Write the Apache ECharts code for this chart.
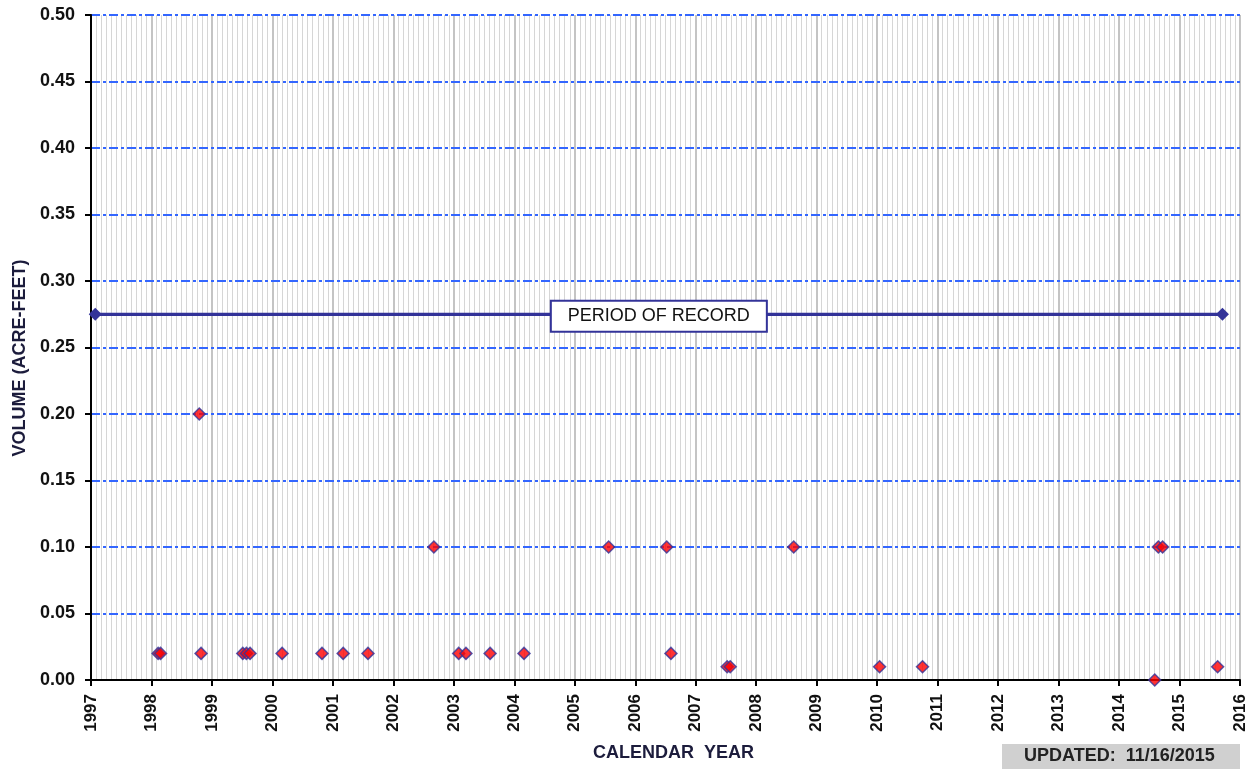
<!DOCTYPE html>
<html>
<head>
<meta charset="utf-8">
<script src="https://cdn.jsdelivr.net/npm/echarts@6/dist/echarts.min.js"></script>
<style>
html,body{margin:0;padding:0;background:#fff;}
#chart{width:1255px;height:771px;}
</style>
</head>
<body>
<div id="chart"></div>
<script>
// ---- data ----
const yearTicks = [1997,1998,1999,2000,2001,2002,2003,2004,2005,2006,2007,2008,2009,2010,2011,2012,2013,2014,2015,2016];
const periodYears = [1997.07, 2015.71];
const periodValue = 0.275;
const sampleYears = [1998.11,1998.15,1998.79,1998.82,1999.51,1999.57,1999.63,2000.16,2000.82,2001.17,2001.58,2002.67,2003.08,2003.20,2003.60,2004.16,2005.56,2006.52,2006.59,2007.52,2007.57,2008.62,2010.04,2010.75,2014.59,2014.65,2014.72,2015.63];
const sampleVolumes = [0.02,0.02,0.20,0.02,0.02,0.02,0.02,0.02,0.02,0.02,0.02,0.10,0.02,0.02,0.02,0.02,0.10,0.10,0.02,0.01,0.01,0.10,0.01,0.01,0.00,0.10,0.10,0.01];
const periodLabel = 'PERIOD OF RECORD';
const xTitle = 'CALENDAR  YEAR';
const yTitle = 'VOLUME (ACRE-FEET)';
const updatedText = 'UPDATED:  11/16/2015';

const FONT = '"Liberation Sans", Arial, sans-serif';
const chart = echarts.init(document.getElementById('chart'), null, {renderer:'canvas'});

const periodData = periodYears.map(y => [y, periodValue]);
const sampleData = sampleYears.map((y,i) => [y, sampleVolumes[i]]);

chart.setOption({
  animation: false,
  backgroundColor: '#ffffff',
  grid: {left: 91, top: 15, right: 15, bottom: 91, containLabel: false, outerBoundsMode: 'none'},
  xAxis: {
    type: 'value', min: 1997, max: 2016, interval: 1,
    name: xTitle, nameLocation: 'middle', nameGap: 64,
    nameTextStyle: {fontFamily: FONT, fontSize: 18, fontWeight: 'bold', color: '#1c1c3c', padding: [0, 0, 0, 16]},
    axisLine: {show: true, onZero: false, lineStyle: {color: '#000', width: 2}},
    axisTick: {show: true, length: 6, lineStyle: {color: '#000', width: 2}},
    axisLabel: {rotate: 90, fontFamily: FONT, fontSize: 17, fontWeight: 'bold', color: '#111', margin: 14,
      formatter: v => String(Math.round(v))},
    splitLine: {show: true, lineStyle: {color: '#c4c4c4', width: 2}},
    minorTick: {show: false, splitNumber: 12},
    minorSplitLine: {show: true, lineStyle: {color: '#d6d6d6', width: 1}}
  },
  yAxis: {
    type: 'value', min: 0, max: 0.5, interval: 0.05, z: 3,
    axisLine: {show: true, lineStyle: {color: '#000', width: 2}},
    axisTick: {show: true, length: 6, lineStyle: {color: '#000', width: 2}},
    axisLabel: {fontFamily: FONT, fontSize: 18, fontWeight: 'bold', color: '#111', margin: 16,
      formatter: v => v.toFixed(2)},
    splitLine: {show: true, showMinLine: false, lineStyle: {color: '#3366ff', width: 2, type: [9, 3, 3, 3]}}
  },
  series: [
    {
      type: 'line', data: periodData, z: 4,
      symbol: 'diamond', symbolSize: 13,
      itemStyle: {color: '#333399'},
      lineStyle: {color: '#333399', width: 3},
      markLine: {
        silent: true, symbol: 'none',
        lineStyle: {color: '#333399', width: 3, type: 'solid'},
        label: {
          show: true, position: 'insideMiddle', distance: 0, formatter: periodLabel,
          fontFamily: FONT, fontSize: 18, color: '#111', offset: [0, 2],
          backgroundColor: '#fff', borderColor: '#333399', borderWidth: 2,
          padding: [6, 16, 5, 16]
        },
        data: [[{coord: periodData[0]}, {coord: periodData[1]}]]
      }
    },
    {
      type: 'scatter', data: sampleData, z: 5, clip: false,
      symbol: 'diamond', symbolSize: 12,
      itemStyle: {color: '#ff0000', borderColor: '#333399', borderWidth: 1.5}
    }
  ],
  graphic: [
    {type: 'text', x: 20, y: 358, rotation: Math.PI / 2,
      style: {text: yTitle, font: 'bold 18px ' + FONT, fill: '#1c1c3c', align: 'center', verticalAlign: 'middle'}},
    {type: 'rect', left: 1002, top: 744, shape: {width: 238, height: 25}, style: {fill: '#d0d0d0'}},
    {type: 'text', left: 1024, top: 747, style: {text: updatedText, font: 'bold 18px ' + FONT, fill: '#222'}}
  ]
});
</script>
</body>
</html>
